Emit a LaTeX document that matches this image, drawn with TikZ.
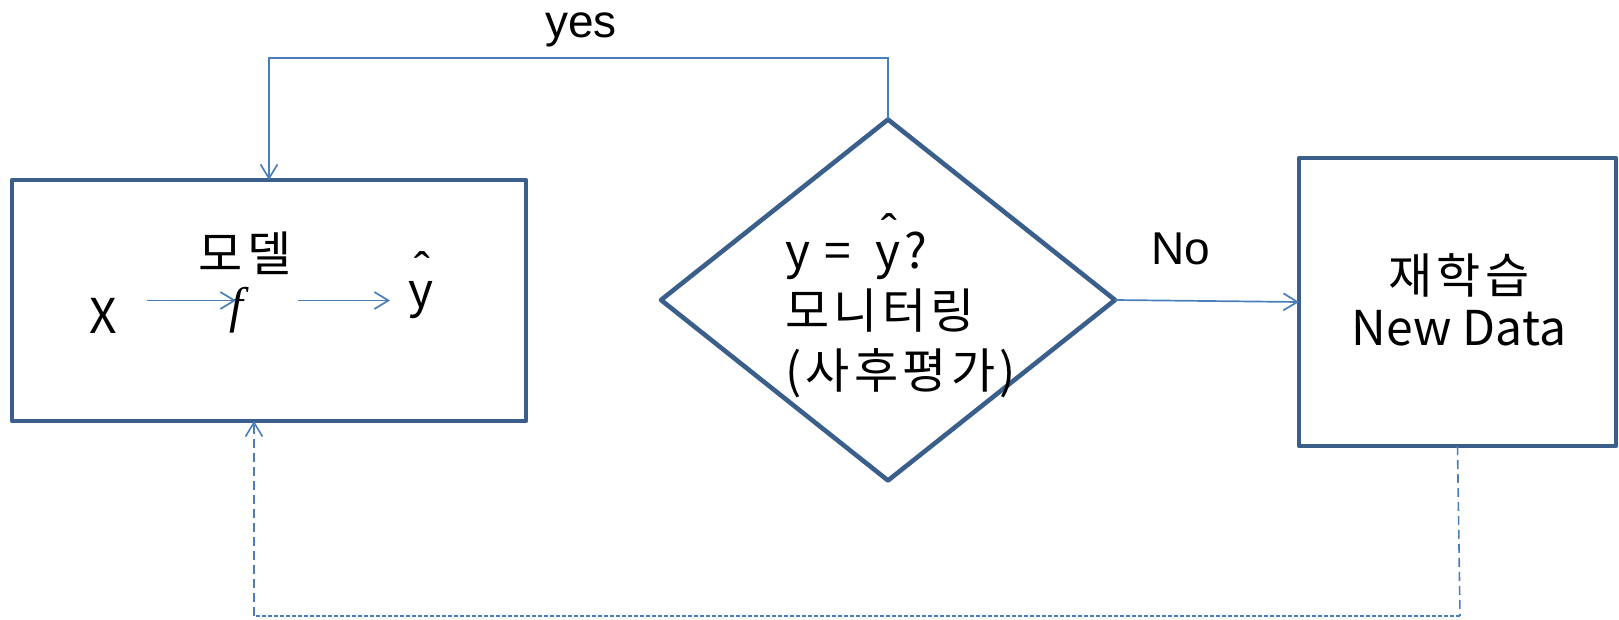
\documentclass[tikz,border=0pt]{standalone}
\usepackage{fontspec}
\setmainfont{Noto Sans CJK KR}
\newfontfamily\kr[LetterSpace=9]{Noto Sans CJK KR}
\newfontfamily\lat{Liberation Sans}
\newfontfamily\fnfont{Liberation Serif}
\usetikzlibrary{arrows.meta,shapes.geometric}
\definecolor{boxblue}{HTML}{3A5F8B}
\definecolor{linkblue}{HTML}{4A7EBB}
\newcommand\yhat{\rlap{\hspace{0.13em}\raisebox{0.42em}{\lat\char"02C6}}y}
\begin{document}
\begin{tikzpicture}[x=1pt,y=-1pt,
  box/.style={draw=boxblue,line width=4.6pt,line join=round,inner sep=0pt,outer sep=0pt},
  link/.style={draw=linkblue,line width=1.7pt,-{Straight Barb[length=14pt,width=17pt,line width=1.7pt]}},
  dashlink/.style={draw=linkblue,line width=1.6pt,dash pattern=on 9pt off 5pt},
  dotlink/.style={draw=linkblue,line width=1.6pt,dash pattern=on 4pt off 2pt},
  txt/.style={font=\fontsize{48}{58}\selectfont,inner sep=0pt},
  lbl/.style={font=\lat\fontsize{46}{52}\selectfont,inner sep=0pt}]
\useasboundingbox (0,0) rectangle (1619,620);

% main shapes
\node[box, rectangle, minimum width=514pt, minimum height=241pt] (model) at (269,300.5) {};
\node[box, diamond, minimum width=454pt, minimum height=361pt] (dec) at (888,300) {};
\node[box, rectangle, minimum width=317pt, minimum height=288pt] (retrain) at (1457.5,302) {};

% texts in model box
\node[txt] (mtitle) at (245,253) {\kr 모델};
\node[txt, anchor=base] (xin) at (103.5,333) {X};
\node[txt, anchor=base, font=\fnfont\itshape\fontsize{50}{58}\selectfont] (fn) at (236,322) {f};
\node[txt, anchor=base] (yout) at (421,307) {\yhat};

% texts in diamond and retrain box
\node[txt, align=left, anchor=west, font=\fontsize{48}{60}\selectfont] (dtext) at (785,306) {y\hspace{0.3em}=\hspace{0.5em}\yhat\hspace{0.08em}?\\{\kr 모니터링}\\{\kr (사후평가)}};
\node[txt, align=center, font=\fontsize{48}{52}\selectfont] (rtext) at (1459,300) {{\kr 재학습}\\New Data};

% labels
\node[lbl, anchor=base] (yes) at (581,38) {yes};
\node[lbl, anchor=base] (no) at (1181,265) {No};

% internal arrows
\coordinate (a1s) at (147,300.5);
\coordinate (a1e) at (236,300.5);
\coordinate (a2s) at (298,300.5);
\coordinate (a2e) at (390,300.5);
\draw[link] (a1s) -- (a1e);
\draw[link] (a2s) -- (a2e);

% yes loop
\coordinate (ytop) at (888,58);
\draw[link] (dec.north) -- (ytop) -| (model.north);

% no arrow
\draw[link] (dec.east) -- (retrain.west);

% dashed feedback
\coordinate (dr) at (1460,616);
\coordinate (dl) at (254,616);
\coordinate (din) at (254,421);
\draw[dashlink] (retrain.south) -- (dr);
\draw[dotlink] (dr) -- (dl);
\draw[dashlink, -{Straight Barb[length=14pt,width=17pt,line width=1.6pt]}] (dl) -- (din);
\end{tikzpicture}
\end{document}
